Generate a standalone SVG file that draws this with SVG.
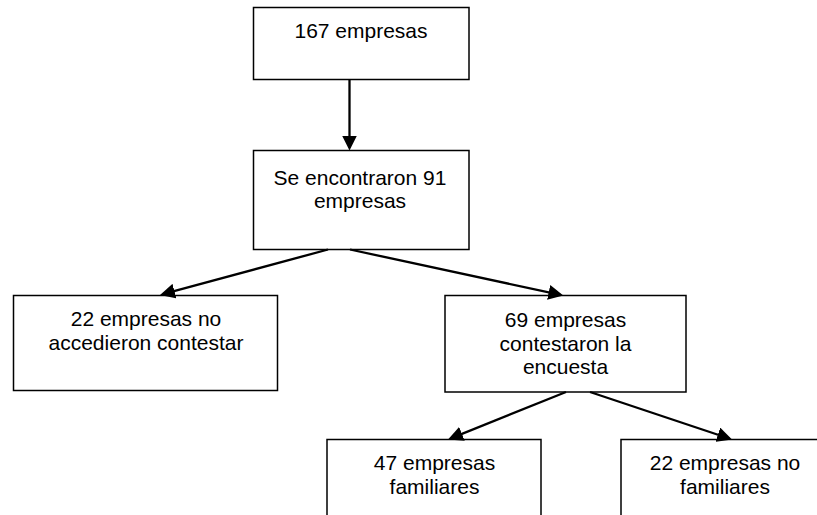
<svg xmlns="http://www.w3.org/2000/svg" width="817" height="515" viewBox="0 0 817 515">
<style>
.box{fill:#fff;stroke:#000;stroke-width:1.5}
.t{font-family:"Liberation Sans",Arial,sans-serif;font-size:21px;fill:#000;text-anchor:middle}
.c{stroke:#000;stroke-width:2.3;fill:none}
</style>
<defs>
<marker id="ah" viewBox="0 0 15 15" refX="12" refY="7.5" markerWidth="15" markerHeight="15" markerUnits="userSpaceOnUse" orient="auto">
<path d="M0,0 L15,7.5 L0,15 Z" fill="#000"/>
</marker>
</defs>
<rect width="817" height="515" fill="#fff"/>
<g id="n1"><rect class="box" x="253.5" y="7.5" width="215.5" height="72"/><text class="t" x="361" y="38">167 empresas</text></g>
<g id="n2"><rect class="box" x="253.5" y="150.5" width="215.5" height="99"/><text class="t" x="360" y="184.5">Se encontraron 91</text><text class="t" x="360" y="208">empresas</text></g>
<g id="n3"><rect class="box" x="13.5" y="295.5" width="264" height="95"/><text class="t" x="146" y="326">22 empresas no</text><text class="t" x="146" y="350">accedieron contestar</text></g>
<g id="n4"><rect class="box" x="445" y="295.5" width="241" height="96.5"/><text class="t" x="565.5" y="327">69 empresas</text><text class="t" x="565.5" y="350.5">contestaron la</text><text class="t" x="565.5" y="374">encuesta</text></g>
<g id="n5"><rect class="box" x="327" y="439.5" width="214" height="90"/><text class="t" x="434.5" y="470">47 empresas</text><text class="t" x="434.5" y="493.5">familiares</text></g>
<g id="n6"><rect class="box" x="621" y="439.5" width="208" height="90"/><text class="t" x="725" y="470">22 empresas no</text><text class="t" x="725" y="493.5">familiares</text></g>
<g id="connectors">
<line class="c" x1="349.5" y1="79.5" x2="349.5" y2="147.5" marker-end="url(#ah)"/>
<line class="c" x1="328" y1="249.5" x2="162.9" y2="294.2" marker-end="url(#ah)"/>
<line class="c" x1="350" y1="249.5" x2="560.4" y2="294.9" marker-end="url(#ah)"/>
<line class="c" x1="566" y1="392" x2="450.8" y2="438.4" marker-end="url(#ah)"/>
<line class="c" x1="590" y1="392" x2="729.2" y2="438.5" marker-end="url(#ah)"/>
</g>
</svg>
